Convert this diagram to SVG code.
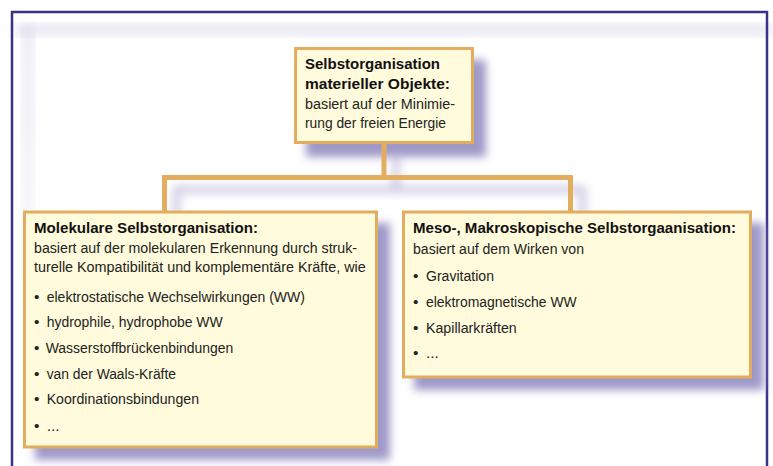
<svg xmlns="http://www.w3.org/2000/svg" width="773" height="466" viewBox="0 0 773 466">
<style>
.box{fill:#fffbdc;stroke:#e3ad5f;stroke-width:3}
.conn{fill:none;stroke:#e3ad5f;stroke-width:5}
.sh{fill:#948ec2;opacity:0.9;filter:url(#blur)}
.shc{fill:none;stroke:#948ec2;stroke-width:6;opacity:0.55;filter:url(#blur2)}
text{font-family:"Liberation Sans",Arial,sans-serif;font-size:15.5px;fill:#222}
.b{font-weight:bold;fill:#111}
</style>
<defs>
<filter id="blur" x="-20%" y="-20%" width="140%" height="140%"><feGaussianBlur stdDeviation="4"/></filter>
<filter id="blur2" x="-20%" y="-50%" width="140%" height="200%"><feGaussianBlur stdDeviation="5"/></filter>
<filter id="blur3" x="-10%" y="-10%" width="120%" height="120%"><feGaussianBlur stdDeviation="6"/></filter>
<linearGradient id="fade" x1="0" y1="0" x2="0" y2="1">
<stop offset="0" stop-color="#d4d1e6" stop-opacity="0.5"/>
<stop offset="0.6" stop-color="#d4d1e6" stop-opacity="0.15"/>
<stop offset="1" stop-color="#d4d1e6" stop-opacity="0"/>
</linearGradient>
</defs>
<rect width="773" height="466" fill="#ffffff"/>
<g id="frame">
<rect x="14" y="24" width="760" height="12" fill="#d4d1e6" opacity="0.55" filter="url(#blur3)"/>
<rect x="22" y="26" width="12" height="440" fill="url(#fade)" filter="url(#blur3)"/>
<rect x="12" y="12" width="755" height="480" fill="none" stroke="#37318a" stroke-width="2.5"/>
</g>
<g id="shadows">
<rect class="sh" x="306" y="60" width="180" height="97"/>
<rect class="sh" x="35" y="223" width="355" height="237"/>
<rect class="sh" x="414" y="223" width="350" height="167"/>
<path class="shc" d="M396,156 V189.5 M176.5,223 V189.5 H582.5 V223"/>
</g>
<g id="connectors">
<path class="conn" d="M384,144 V177.5 M164.5,211 V177.5 H570.5 V211"/>
</g>
<g id="node-top">
<rect class="box" x="295.5" y="48.5" width="177" height="94"/>
<text class="b" x="305" y="69" textLength="135" lengthAdjust="spacingAndGlyphs">Selbstorganisation</text>
<text class="b" x="305" y="89" textLength="145" lengthAdjust="spacingAndGlyphs">materieller Objekte:</text>
<text x="305" y="108.5" textLength="150" lengthAdjust="spacingAndGlyphs">basiert auf der Minimie-</text>
<text x="305" y="128.3" textLength="141" lengthAdjust="spacingAndGlyphs">rung der freien Energie</text>
</g>
<g id="node-molecular">
<rect class="box" x="24.5" y="212" width="352" height="235"/>
<text class="b" x="34" y="233" textLength="224" lengthAdjust="spacingAndGlyphs">Molekulare Selbstorganisation:</text>
<text x="34" y="252.7" textLength="323" lengthAdjust="spacingAndGlyphs">basiert auf der molekularen Erkennung durch struk-</text>
<text x="34" y="272.3" textLength="331.7" lengthAdjust="spacingAndGlyphs">turelle Kompatibilität und komplementäre Kräfte, wie</text>
<text x="34" y="301.7">•</text>
<text x="46.7" y="301.7" textLength="258.3" lengthAdjust="spacingAndGlyphs">elektrostatische Wechselwirkungen (WW)</text>
<text x="34" y="327.3">•</text>
<text x="46.7" y="327.3" textLength="176" lengthAdjust="spacingAndGlyphs">hydrophile, hydrophobe WW</text>
<text x="34" y="353">•</text>
<text x="45.7" y="353" textLength="187.6" lengthAdjust="spacingAndGlyphs">Wasserstoffbrückenbindungen</text>
<text x="34" y="378.6">•</text>
<text x="46.7" y="378.6" textLength="129.3" lengthAdjust="spacingAndGlyphs">van der Waals-Kräfte</text>
<text x="34" y="404.3">•</text>
<text x="46.7" y="404.3" textLength="152.3" lengthAdjust="spacingAndGlyphs">Koordinationsbindungen</text>
<text x="34" y="430.5">•</text>
<text x="46.7" y="430.5">...</text>
</g>
<g id="node-macro">
<rect class="box" x="403.5" y="212" width="347" height="165"/>
<text class="b" x="413" y="233" textLength="323" lengthAdjust="spacingAndGlyphs">Meso-, Makroskopische Selbstorgaanisation:</text>
<text x="413" y="253.5" textLength="171" lengthAdjust="spacingAndGlyphs">basiert auf dem Wirken von</text>
<text x="413" y="281">•</text>
<text x="426" y="281" textLength="68" lengthAdjust="spacingAndGlyphs">Gravitation</text>
<text x="413" y="306.7">•</text>
<text x="426" y="306.7" textLength="150.7" lengthAdjust="spacingAndGlyphs">elektromagnetische WW</text>
<text x="413" y="332.5">•</text>
<text x="426" y="332.5" textLength="90.7" lengthAdjust="spacingAndGlyphs">Kapillarkräften</text>
<text x="413" y="358">•</text>
<text x="426" y="358">...</text>
</g>
</svg>
